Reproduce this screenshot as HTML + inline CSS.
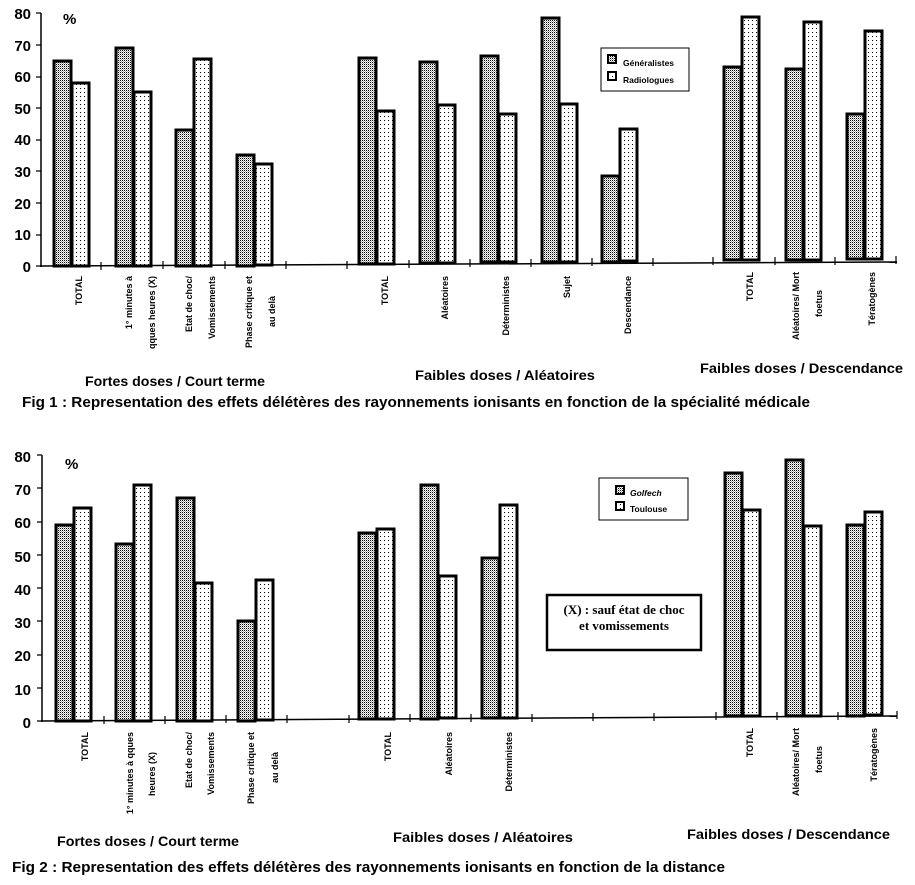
<!DOCTYPE html>
<html><head><meta charset="utf-8"><style>
html,body{margin:0;padding:0;background:#fff;}
svg{display:block;font-family:"Liberation Sans",Arial,sans-serif;font-weight:bold;}
</style></head><body>
<svg width="915" height="885" viewBox="0 0 915 885" xmlns="http://www.w3.org/2000/svg">
<defs>
<pattern id="g" width="2" height="2" patternUnits="userSpaceOnUse"><rect width="2" height="2" fill="#fff"/><rect width="1" height="1" fill="#000"/><rect x="1" y="1" width="1" height="1" fill="#aaa"/></pattern>
<pattern id="r" width="4" height="4" patternUnits="userSpaceOnUse"><rect width="4" height="4" fill="#fff"/><rect width="1" height="1" fill="#000"/></pattern>
</defs>
<g font-size="15" text-anchor="end" fill="#000">
<text x="31" y="19">80</text><text x="31" y="51">70</text><text x="31" y="82">60</text><text x="31" y="114">50</text><text x="31" y="145">40</text><text x="31" y="177">30</text><text x="31" y="209">20</text><text x="31" y="240">10</text><text x="31" y="272">0</text>
<text x="31" y="462">80</text><text x="31" y="495">70</text><text x="31" y="528">60</text><text x="31" y="562">50</text><text x="31" y="595">40</text><text x="31" y="628">30</text><text x="31" y="661">20</text><text x="31" y="695">10</text><text x="31" y="728">0</text>
</g>
<text x="63" y="24" font-size="15">%</text>
<text x="65" y="469" font-size="15">%</text>
<g stroke="#000" stroke-width="1.5">
<line x1="41" y1="13" x2="41" y2="267"/><line x1="40" y1="266" x2="897" y2="262"/>
<line x1="42" y1="455" x2="42" y2="722"/><line x1="41" y1="721" x2="897" y2="716"/>
</g>
<g stroke="#000" stroke-width="1.2">
<path d="M36 13h5M36 45h5M36 77h5M36 108h5M36 140h5M36 171h5M36 203h5M36 235h5M36 266h5"/>
<path d="M37 455h5M37 488h5M37 522h5M37 555h5M37 588h5M37 621h5M37 655h5M37 688h5M37 721h5"/>
<path d="M101 262v8M163 261v8M225 261v8M286 261v8M347 261v8M409 260v8M470 259v8M531 259v8M592 258v8M653 258v8M713 257v8M775 257v8M835 257v8M896 256v8"/>
<path d="M104 716v8M165 716v8M226 715v8M287 715v8M349 715v8M410 714v8M471 714v8M532 714v8M593 713v8M654 713v8M716 712v8M777 712v8M838 712v8M897 711v8"/>
</g>
<g stroke="#000" stroke-width="3">
<rect x="54" y="61" width="17" height="205" fill="url(#g)"/><rect x="72" y="83" width="17" height="183" fill="url(#r)"/>
<rect x="116" y="48" width="17" height="218" fill="url(#g)"/><rect x="134" y="92" width="17" height="174" fill="url(#r)"/>
<rect x="176" y="130" width="17" height="136" fill="url(#g)"/><rect x="194" y="59" width="17" height="207" fill="url(#r)"/>
<rect x="237" y="155" width="17" height="111" fill="url(#g)"/><rect x="255" y="164" width="17" height="101" fill="url(#r)"/>
<rect x="359" y="58" width="17" height="206" fill="url(#g)"/><rect x="377" y="111" width="17" height="153" fill="url(#r)"/>
<rect x="420" y="62" width="17" height="201" fill="url(#g)"/><rect x="438" y="105" width="17" height="158" fill="url(#r)"/>
<rect x="481" y="56" width="17" height="206" fill="url(#g)"/><rect x="499" y="114" width="17" height="148" fill="url(#r)"/>
<rect x="542" y="18" width="17" height="244" fill="url(#g)"/><rect x="560" y="104" width="17" height="158" fill="url(#r)"/>
<rect x="602" y="176" width="17" height="86" fill="url(#g)"/><rect x="620" y="129" width="17" height="132" fill="url(#r)"/>
<rect x="724" y="67" width="17" height="193" fill="url(#g)"/><rect x="742" y="17" width="17" height="243" fill="url(#r)"/>
<rect x="786" y="69" width="17" height="191" fill="url(#g)"/><rect x="804" y="22" width="17" height="238" fill="url(#r)"/>
<rect x="847" y="114" width="17" height="145" fill="url(#g)"/><rect x="865" y="31" width="17" height="228" fill="url(#r)"/>
<rect x="56" y="525" width="17" height="196" fill="url(#g)"/><rect x="74" y="508" width="17" height="213" fill="url(#r)"/>
<rect x="116" y="544" width="17" height="177" fill="url(#g)"/><rect x="134" y="485" width="17" height="236" fill="url(#r)"/>
<rect x="177" y="498" width="17" height="223" fill="url(#g)"/><rect x="195" y="583" width="17" height="138" fill="url(#r)"/>
<rect x="238" y="621" width="17" height="100" fill="url(#g)"/><rect x="256" y="580" width="17" height="140" fill="url(#r)"/>
<rect x="359" y="533" width="17" height="186" fill="url(#g)"/><rect x="377" y="529" width="17" height="190" fill="url(#r)"/>
<rect x="421" y="485" width="17" height="234" fill="url(#g)"/><rect x="439" y="576" width="17" height="142" fill="url(#r)"/>
<rect x="482" y="558" width="17" height="160" fill="url(#g)"/><rect x="500" y="505" width="17" height="213" fill="url(#r)"/>
<rect x="725" y="473" width="17" height="243" fill="url(#g)"/><rect x="743" y="510" width="17" height="206" fill="url(#r)"/>
<rect x="786" y="460" width="17" height="256" fill="url(#g)"/><rect x="804" y="526" width="17" height="190" fill="url(#r)"/>
<rect x="847" y="525" width="17" height="191" fill="url(#g)"/><rect x="865" y="512" width="17" height="203" fill="url(#r)"/>
</g>
<rect x="601" y="48" width="88" height="43" fill="#fff" stroke="#000" stroke-width="1"/>
<rect x="608" y="55" width="8" height="8" fill="url(#g)" stroke="#000" stroke-width="2"/>
<rect x="608" y="72" width="8" height="8" fill="url(#r)" stroke="#000" stroke-width="2"/>
<text x="623" y="66" font-size="8.5">Généralistes</text><text x="623" y="83" font-size="8.5">Radiologues</text>
<rect x="599" y="478" width="89" height="42" fill="#fff" stroke="#000" stroke-width="1"/>
<rect x="616" y="486" width="8" height="8" fill="url(#g)" stroke="#000" stroke-width="2"/>
<rect x="616" y="502" width="8" height="8" fill="url(#r)" stroke="#000" stroke-width="2"/>
<text x="630" y="496" font-size="8.5" font-style="italic">Golfech</text><text x="630" y="512" font-size="8.5">Toulouse</text>
<rect x="547" y="595" width="154" height="55" fill="#fff" stroke="#000" stroke-width="2.5"/>
<text x="624" y="614" font-size="13" text-anchor="middle" font-family="Liberation Serif,serif">(X) : sauf état de choc</text>
<text x="624" y="630" font-size="13" text-anchor="middle" font-family="Liberation Serif,serif">et vomissements</text>
<g font-size="9" text-anchor="end">
<text transform="translate(82,276) rotate(-90)">TOTAL</text>
<text transform="translate(132,276) rotate(-90)">1° minutes à</text><text transform="translate(155,276) rotate(-90)">qques heures (X)</text>
<text transform="translate(192,276) rotate(-90)">Etat de choc/</text><text transform="translate(215,276) rotate(-90)">Vomissements</text>
<text transform="translate(252,276) rotate(-90)">Phase critique et</text><text transform="translate(275,296) rotate(-90)">au delà</text>
<text transform="translate(388,276) rotate(-90)">TOTAL</text>
<text transform="translate(448,276) rotate(-90)">Aléatoires</text>
<text transform="translate(509,276) rotate(-90)">Déterministes</text>
<text transform="translate(570,276) rotate(-90)">Sujet</text>
<text transform="translate(631,276) rotate(-90)">Descendance</text>
<text transform="translate(753,272) rotate(-90)">TOTAL</text>
<text transform="translate(799,272) rotate(-90)">Aléatoires/ Mort</text><text transform="translate(822,290) rotate(-90)">foetus</text>
<text transform="translate(875,272) rotate(-90)">Tératogènes</text>
<text transform="translate(88,732) rotate(-90)">TOTAL</text>
<text transform="translate(133,732) rotate(-90)">1° minutes à qques</text><text transform="translate(155,752) rotate(-90)">heures (X)</text>
<text transform="translate(192,732) rotate(-90)">Etat de choc/</text><text transform="translate(214,732) rotate(-90)">Vomissements</text>
<text transform="translate(254,732) rotate(-90)">Phase critique et</text><text transform="translate(278,752) rotate(-90)">au delà</text>
<text transform="translate(391,732) rotate(-90)">TOTAL</text>
<text transform="translate(452,732) rotate(-90)">Aléatoires</text>
<text transform="translate(512,732) rotate(-90)">Déterministes</text>
<text transform="translate(753,728) rotate(-90)">TOTAL</text>
<text transform="translate(799,728) rotate(-90)">Aléatoires/ Mort</text><text transform="translate(822,746) rotate(-90)">foetus</text>
<text transform="translate(877,728) rotate(-90)">Tératogènes</text>
</g>
<g font-size="14">
<text x="85" y="386" textLength="180" lengthAdjust="spacingAndGlyphs">Fortes doses / Court terme</text>
<text x="415" y="380" textLength="180" lengthAdjust="spacingAndGlyphs">Faibles doses / Aléatoires</text>
<text x="700" y="373" textLength="203" lengthAdjust="spacingAndGlyphs">Faibles doses / Descendance</text>
<text x="57" y="846" textLength="182" lengthAdjust="spacingAndGlyphs">Fortes doses / Court terme</text>
<text x="393" y="842" textLength="180" lengthAdjust="spacingAndGlyphs">Faibles doses / Aléatoires</text>
<text x="687" y="839" textLength="203" lengthAdjust="spacingAndGlyphs">Faibles doses / Descendance</text>
</g>
<g font-size="14.5">
<text x="22" y="407" textLength="788" lengthAdjust="spacingAndGlyphs">Fig 1 : Representation des effets délétères des rayonnements ionisants en fonction de la spécialité médicale</text>
<text x="12" y="872" textLength="713" lengthAdjust="spacingAndGlyphs">Fig 2 : Representation des effets délétères des rayonnements ionisants en fonction de la distance</text>
</g>
</svg>
</body></html>
